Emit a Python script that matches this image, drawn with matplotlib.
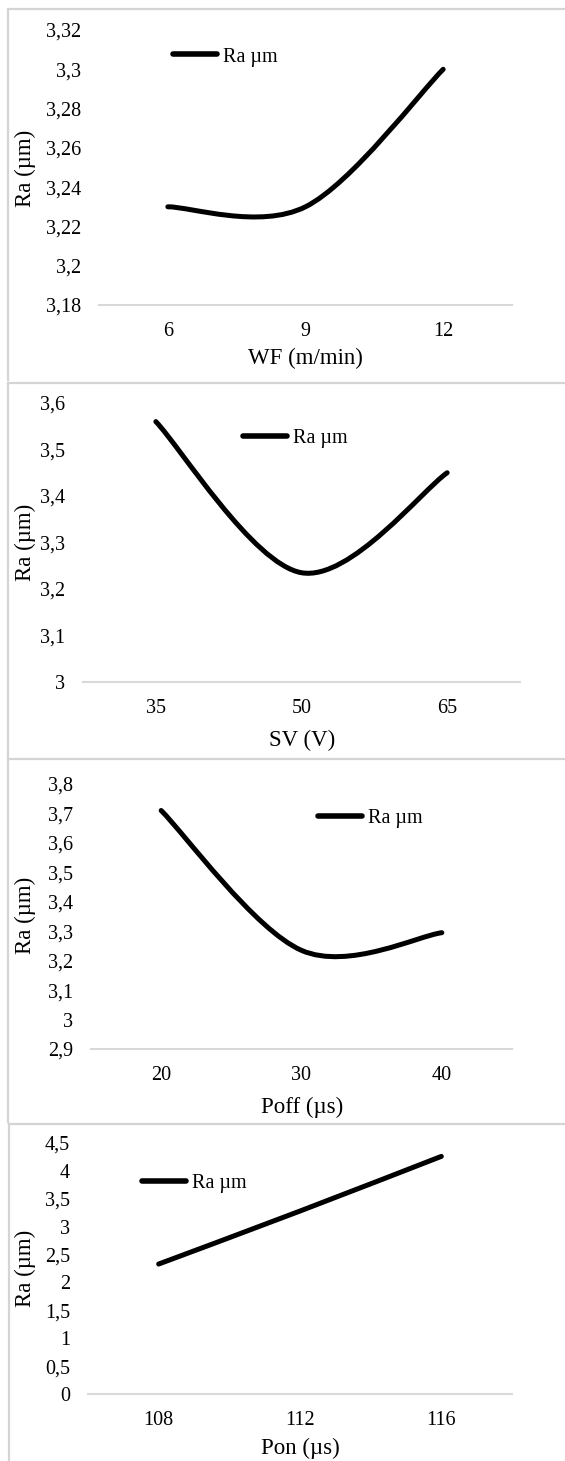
import matplotlib
matplotlib.use("Agg")
import matplotlib.pyplot as plt
from matplotlib.path import Path
from matplotlib.patches import PathPatch
from matplotlib.lines import Line2D

plt.rcParams['font.family'] = ['Liberation Serif', 'DejaVu Serif']

# data
wf = [6, 9, 12]
ra_wf = [3.23, 3.23, 3.30]
sv = [35, 50, 65]
ra_sv = [3.56, 3.235, 3.45]
poff = [20, 30, 40]
ra_poff = [3.71, 3.235, 3.295]
pon = [108, 112, 116]
ra_pon = [2.33, 3.28, 4.26]

wf_ticks = [3.18, 3.20, 3.22, 3.24, 3.26, 3.28, 3.30, 3.32]
sv_ticks = [3.0, 3.1, 3.2, 3.3, 3.4, 3.5, 3.6]
poff_ticks = [2.9, 3.0, 3.1, 3.2, 3.3, 3.4, 3.5, 3.6, 3.7, 3.8]
pon_ticks = [0, 0.5, 1, 1.5, 2, 2.5, 3, 3.5, 4, 4.5]

W, H = 565, 1461
fig = plt.figure(figsize=(W / 100, H / 100), dpi=100)

GRID = '#d9d9d9'


def fx(px):
    return px / W


def fy(py):
    return 1 - py / H


def smooth_path(xs, ys):
    # Excel style smoothed line: cubic bezier through the points
    n = len(xs)
    verts = [(xs[0], ys[0])]
    codes = [Path.MOVETO]
    for i in range(n - 1):
        x0, y0 = xs[max(i - 1, 0)], ys[max(i - 1, 0)]
        x1, y1 = xs[i], ys[i]
        x2, y2 = xs[i + 1], ys[i + 1]
        x3, y3 = xs[min(i + 2, n - 1)], ys[min(i + 2, n - 1)]
        verts += [(x1 + (x2 - x0) / 6, y1 + (y2 - y0) / 6),
                  (x2 - (x3 - x1) / 6, y2 - (y3 - y1) / 6),
                  (x2, y2)]
        codes += [Path.CURVE4] * 3
    return Path(verts, codes)


def fmt(v):
    return f'{round(v, 3):g}'.replace('.', ',')


def panel(box, x, y, ticks, xlabel, ylab_y, xlab, leg):
    left, top, right, bottom = box
    ax = fig.add_axes([fx(left), fy(bottom), fx(right - left), (bottom - top) / H])
    step = x[1] - x[0]
    ax.set_xlim(x[0] - step / 2, x[-1] + step / 2)
    ax.set_ylim(ticks[0], ticks[-1])
    ax.add_patch(PathPatch(smooth_path(x, y), fill=False, lw=3.6,
                           edgecolor='black', capstyle='round'))
    ax.set_xticks(x)
    ax.set_xticklabels([str(v) for v in x])
    ax.set_yticks(ticks)
    ax.set_yticklabels([fmt(t) for t in ticks])
    ax.tick_params(axis='both', length=0, labelsize=14.5)
    ax.tick_params(axis='y', pad=13)
    ax.tick_params(axis='x', pad=12)
    for s in ['top', 'right', 'left']:
        ax.spines[s].set_visible(False)
    ax.spines['bottom'].set_color(GRID)
    ax.spines['bottom'].set_linewidth(1.5)
    ax.patch.set_alpha(0)
    ax.set_ylabel('Ra (µm)', fontsize=16.5)
    ax.yaxis.set_label_coords(fx(25), fy(ylab_y), transform=fig.transFigure)
    ax.set_xlabel(xlabel, fontsize=16.5)
    ax.xaxis.set_label_coords(fx(xlab[0]), fy(xlab[1]), transform=fig.transFigure)
    ax.xaxis.label.set_va('center')
    ax.yaxis.label.set_va('center')
    h = Line2D([], [], color='black', lw=4, solid_capstyle='round')
    ax.legend([h], ['Ra µm'], loc='center left', frameon=False, fontsize=14.5,
              handlelength=2.2, handletextpad=0.3, borderpad=0, borderaxespad=0,
              bbox_to_anchor=(fx(leg[0]), fy(leg[1])), bbox_transform=fig.transFigure)
    return ax


panel((99, 30, 512, 305), wf, ra_wf, wf_ticks, 'WF (m/min)', 168, (305, 358), (173, 57))
panel((83, 403, 520, 682), sv, ra_sv, sv_ticks, 'SV (V)', 542, (302, 740), (243, 438))
panel((91, 784, 512, 1049), poff, ra_poff, poff_ticks, 'Poff (µs)', 915, (302, 1107), (318, 818))
panel((88, 1143, 512, 1394), pon, ra_pon, pon_ticks, 'Pon (µs)', 1268, (300, 1448), (142, 1183))

# panel frames: top edge and left edge of each box
frames = [(7.5, 9, 380), (8, 383, 757), (8, 759, 1122), (9, 1124, 1470)]
for x0, y0, y1 in frames:
    fig.add_artist(Line2D([fx(x0), fx(600)], [fy(y0), fy(y0)], transform=fig.transFigure,
                          color='#d4d4d4', lw=1.6))
    fig.add_artist(Line2D([fx(x0), fx(x0)], [fy(y0), fy(y1)], transform=fig.transFigure,
                          color='#d4d4d4', lw=1.6))

fig.savefig('out.png', dpi=100)
